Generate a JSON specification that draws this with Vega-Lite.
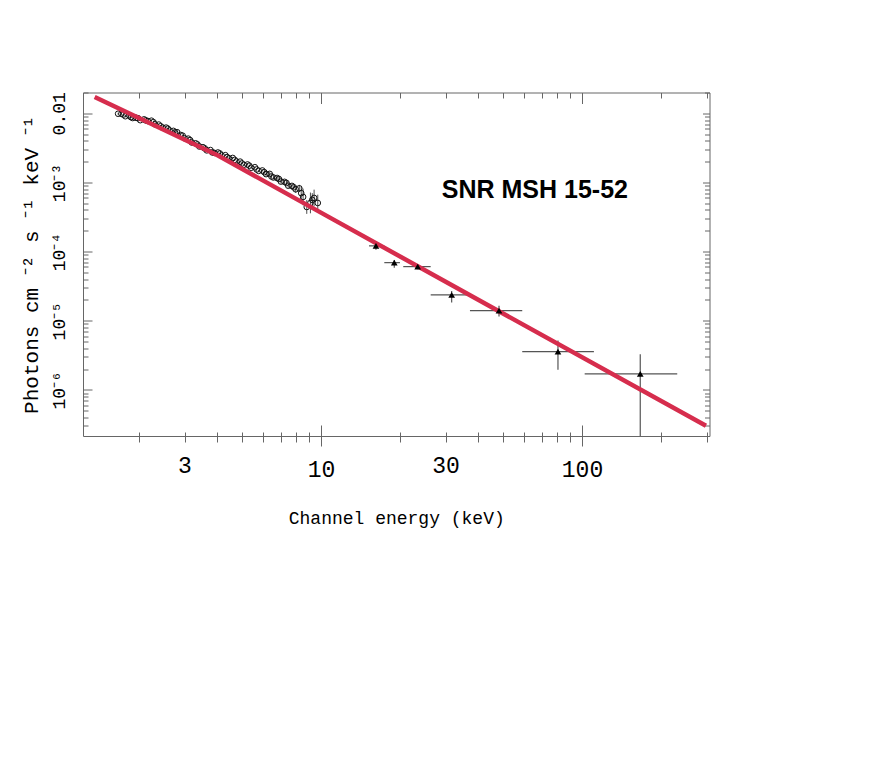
{
  "$schema": "https://vega.github.io/schema/vega-lite/v6.json",
  "width": 626.5,
  "height": 343.5,
  "autosize": {"type": "none"},
  "padding": {"left": 83, "top": 92.5, "right": 162.5, "bottom": 327},
  "background": "white",
  "config": {
    "view": {"stroke": "#666", "strokeWidth": 1},
    "axis": {"domain": false, "grid": false, "labelFont": "Liberation Mono", "titleFont": "Liberation Mono", "tickColor": "#666", "labelColor": "#000", "titleColor": "#000", "titleFontWeight": "normal", "labelOverlap": false, "labelFlush": false}
  },
  "datasets": {
    "soft": [
      {"E": 1.67, "F": 0.00986, "lo": 0.00952, "hi": 0.0102},
      {"E": 1.72, "F": 0.00982, "lo": 0.00949, "hi": 0.01016},
      {"E": 1.75, "F": 0.0096, "lo": 0.00927, "hi": 0.00994},
      {"E": 1.78, "F": 0.00908, "lo": 0.00877, "hi": 0.0094},
      {"E": 1.84, "F": 0.00933, "lo": 0.00901, "hi": 0.00966},
      {"E": 1.87, "F": 0.0088, "lo": 0.0085, "hi": 0.00911},
      {"E": 1.90, "F": 0.00855, "lo": 0.00826, "hi": 0.00885},
      {"E": 1.96, "F": 0.00861, "lo": 0.00832, "hi": 0.00891},
      {"E": 1.99, "F": 0.0085, "lo": 0.00821, "hi": 0.0088},
      {"E": 2.03, "F": 0.00796, "lo": 0.00769, "hi": 0.00824},
      {"E": 2.10, "F": 0.00817, "lo": 0.00789, "hi": 0.00846},
      {"E": 2.13, "F": 0.0079, "lo": 0.00763, "hi": 0.00818},
      {"E": 2.17, "F": 0.00774, "lo": 0.00748, "hi": 0.00801},
      {"E": 2.24, "F": 0.00782, "lo": 0.00755, "hi": 0.00809},
      {"E": 2.28, "F": 0.00745, "lo": 0.0072, "hi": 0.00771},
      {"E": 2.31, "F": 0.00693, "lo": 0.00669, "hi": 0.00717},
      {"E": 2.39, "F": 0.00687, "lo": 0.00664, "hi": 0.00711},
      {"E": 2.43, "F": 0.0065, "lo": 0.00628, "hi": 0.00673},
      {"E": 2.47, "F": 0.00622, "lo": 0.00601, "hi": 0.00644},
      {"E": 2.55, "F": 0.00621, "lo": 0.006, "hi": 0.00643},
      {"E": 2.59, "F": 0.006, "lo": 0.0058, "hi": 0.00621},
      {"E": 2.63, "F": 0.00564, "lo": 0.00545, "hi": 0.00584},
      {"E": 2.72, "F": 0.00557, "lo": 0.00538, "hi": 0.00576},
      {"E": 2.76, "F": 0.0053, "lo": 0.00512, "hi": 0.00549},
      {"E": 2.81, "F": 0.00533, "lo": 0.00515, "hi": 0.00552},
      {"E": 2.90, "F": 0.00486, "lo": 0.00469, "hi": 0.00503},
      {"E": 2.95, "F": 0.00475, "lo": 0.00459, "hi": 0.00492},
      {"E": 3.00, "F": 0.00436, "lo": 0.00421, "hi": 0.00451},
      {"E": 3.10, "F": 0.0043, "lo": 0.00415, "hi": 0.00445},
      {"E": 3.15, "F": 0.0041, "lo": 0.00396, "hi": 0.00424},
      {"E": 3.20, "F": 0.00378, "lo": 0.00365, "hi": 0.00391},
      {"E": 3.31, "F": 0.00368, "lo": 0.00355, "hi": 0.00381},
      {"E": 3.36, "F": 0.00355, "lo": 0.00343, "hi": 0.00367},
      {"E": 3.42, "F": 0.00331, "lo": 0.0032, "hi": 0.00343},
      {"E": 3.53, "F": 0.00323, "lo": 0.00312, "hi": 0.00334},
      {"E": 3.59, "F": 0.0031, "lo": 0.00299, "hi": 0.00321},
      {"E": 3.65, "F": 0.00291, "lo": 0.00281, "hi": 0.00301},
      {"E": 3.77, "F": 0.00294, "lo": 0.00284, "hi": 0.00304},
      {"E": 3.83, "F": 0.00272, "lo": 0.00263, "hi": 0.00282},
      {"E": 3.90, "F": 0.00268, "lo": 0.00259, "hi": 0.00277},
      {"E": 4.03, "F": 0.00271, "lo": 0.00262, "hi": 0.0028},
      {"E": 4.10, "F": 0.00262, "lo": 0.00253, "hi": 0.00271},
      {"E": 4.16, "F": 0.00245, "lo": 0.00237, "hi": 0.00254},
      {"E": 4.30, "F": 0.00248, "lo": 0.0024, "hi": 0.00257},
      {"E": 4.37, "F": 0.00232, "lo": 0.00224, "hi": 0.0024},
      {"E": 4.44, "F": 0.00223, "lo": 0.00215, "hi": 0.00231},
      {"E": 4.59, "F": 0.00226, "lo": 0.00218, "hi": 0.00234},
      {"E": 4.67, "F": 0.00212, "lo": 0.00205, "hi": 0.00219},
      {"E": 4.74, "F": 0.00201, "lo": 0.00194, "hi": 0.00208},
      {"E": 4.90, "F": 0.002, "lo": 0.00193, "hi": 0.00207},
      {"E": 4.98, "F": 0.00188, "lo": 0.00182, "hi": 0.00195},
      {"E": 5.06, "F": 0.0018, "lo": 0.00174, "hi": 0.00186},
      {"E": 5.23, "F": 0.00182, "lo": 0.00176, "hi": 0.00188},
      {"E": 5.31, "F": 0.00175, "lo": 0.00169, "hi": 0.00181},
      {"E": 5.40, "F": 0.00163, "lo": 0.00157, "hi": 0.00169},
      {"E": 5.58, "F": 0.00166, "lo": 0.0016, "hi": 0.00172},
      {"E": 5.67, "F": 0.00154, "lo": 0.00149, "hi": 0.00159},
      {"E": 5.77, "F": 0.00147, "lo": 0.00142, "hi": 0.00152},
      {"E": 5.96, "F": 0.00149, "lo": 0.00144, "hi": 0.00154},
      {"E": 6.06, "F": 0.00141, "lo": 0.00132, "hi": 0.00151},
      {"E": 6.16, "F": 0.00132, "lo": 0.00123, "hi": 0.00142},
      {"E": 6.36, "F": 0.00133, "lo": 0.00124, "hi": 0.00143},
      {"E": 6.46, "F": 0.00122, "lo": 0.00114, "hi": 0.00131},
      {"E": 6.57, "F": 0.00118, "lo": 0.0011, "hi": 0.00126},
      {"E": 6.79, "F": 0.00116, "lo": 0.00108, "hi": 0.00124},
      {"E": 6.90, "F": 0.00112, "lo": 0.00104, "hi": 0.0012},
      {"E": 7.02, "F": 0.00103, "lo": 0.000961, "hi": 0.0011},
      {"E": 7.25, "F": 0.00102, "lo": 0.000952, "hi": 0.00109},
      {"E": 7.37, "F": 0.000985, "lo": 0.000919, "hi": 0.00106},
      {"E": 7.49, "F": 0.000897, "lo": 0.000837, "hi": 0.000962},
      {"E": 7.74, "F": 0.000891, "lo": 0.000831, "hi": 0.000955},
      {"E": 7.87, "F": 0.00085, "lo": 0.000793, "hi": 0.000911},
      {"E": 8.00, "F": 0.000796, "lo": 0.000709, "hi": 0.000893},
      {"E": 8.26, "F": 0.000822, "lo": 0.000732, "hi": 0.000922},
      {"E": 8.40, "F": 0.0007, "lo": 0.00056, "hi": 0.000875},
      {"E": 8.54, "F": 0.000617, "lo": 0.000468, "hi": 0.000813},
      {"E": 8.82, "F": 0.000442, "lo": 0.000351, "hi": 0.000556},
      {"E": 9.11, "F": 0.000505, "lo": 0.000358, "hi": 0.000714},
      {"E": 9.26, "F": 0.00056, "lo": 0.000448, "hi": 0.0007},
      {"E": 9.41, "F": 0.000597, "lo": 0.000453, "hi": 0.000787},
      {"E": 9.72, "F": 0.000505, "lo": 0.000383, "hi": 0.000666}
    ],
    "hard": [
      {"E": 16.24, "Elo": 15.27, "Ehi": 17.48, "F": 0.000121, "Flo": 0.000106, "Fhi": 0.000132},
      {"E": 19.09, "Elo": 17.48, "Ehi": 20.07, "F": 0.0000692, "Flo": 0.0000586, "Fhi": 0.0000757},
      {"E": 23.47, "Elo": 20.66, "Ehi": 26.32, "F": 0.0000606, "Flo": 0.0000556, "Fhi": 0.0000656},
      {"E": 31.67, "Elo": 26.32, "Ehi": 37.22, "F": 0.0000236, "Flo": 0.0000183, "Fhi": 0.000027},
      {"E": 48.09, "Elo": 37.22, "Ehi": 59.03, "F": 0.000014, "Flo": 0.0000115, "Fhi": 0.0000164},
      {"E": 80.9, "Elo": 59.03, "Ehi": 111.1, "F": 0.00000358, "Flo": 0.00000195, "Fhi": 0.00000516},
      {"E": 167.2, "Elo": 102.4, "Ehi": 231.7, "F": 0.0000017, "Flo": 0.000000215, "Fhi": 0.00000328}
    ],
    "model": [
      {"E": 1.358, "F": 0.01722},
      {"E": 4.03, "F": 0.002456},
      {"E": 10.82, "F": 0.0003097},
      {"E": 298.5, "F": 0.0000003016}
    ],
    "label": [
      {"E": 66.0, "F": 0.000779, "text": "SNR MSH 15-52"}
    ]
  },
  "resolve": {"axis": {"x": "independent", "y": "independent"}},
  "layer": [
    {
      "data": {"name": "soft"},
      "mark": {"type": "rule", "color": "#222", "strokeWidth": 0.8},
      "encoding": {
        "x": {"field": "E", "type": "quantitative", "scale": {"type": "log", "domain": [1.225, 308], "nice": false},
          "axis": {"orient": "bottom", "values": [2,3,4,5,6,7,8,9,10,20,30,40,50,60,70,80,90,100,200,300], "labels": false, "title": null,
            "tickSize": {"condition": {"test": "datum.value == 10 || datum.value == 100", "value": -11}, "value": -4}}},
        "y": {"field": "lo", "type": "quantitative", "scale": {"type": "log", "domain": [2.15e-7, 0.02], "nice": false},
          "axis": {"orient": "left", "values": [3e-7,4e-7,5e-7,6e-7,7e-7,8e-7,9e-7,1e-6,2e-6,3e-6,4e-6,5e-6,6e-6,7e-6,8e-6,9e-6,1e-5,2e-5,3e-5,4e-5,5e-5,6e-5,7e-5,8e-5,9e-5,1e-4,2e-4,3e-4,4e-4,5e-4,6e-4,7e-4,8e-4,9e-4,1e-3,2e-3,3e-3,4e-3,5e-3,6e-3,7e-3,8e-3,9e-3,0.01,0.02], "labels": false, "title": null,
            "tickSize": {"condition": {"test": "abs(log(datum.value)/LN10 - round(log(datum.value)/LN10)) < 0.01", "value": -9}, "value": -5}}},
        "y2": {"field": "hi"}
      }
    },
    {
      "data": {"name": "soft"},
      "mark": {"type": "point", "shape": "circle", "filled": false, "size": 32, "stroke": "#111", "strokeWidth": 1, "opacity": 1},
      "encoding": {
        "x": {"field": "E", "type": "quantitative", "axis": null},
        "y": {"field": "F", "type": "quantitative", "axis": null}
      }
    },
    {
      "data": {"name": "hard"},
      "mark": {"type": "rule", "color": "#555", "strokeWidth": 1.2},
      "encoding": {
        "x": {"field": "Elo", "type": "quantitative",
          "axis": {"orient": "top", "values": [2,3,4,5,6,7,8,9,10,20,30,40,50,60,70,80,90,100,200,300], "labels": false, "title": null,
            "tickSize": {"condition": {"test": "datum.value == 10 || datum.value == 100", "value": -11}, "value": -5.5}}},
        "x2": {"field": "Ehi"},
        "y": {"field": "F", "type": "quantitative",
          "axis": {"orient": "right", "values": [3e-7,4e-7,5e-7,6e-7,7e-7,8e-7,9e-7,1e-6,2e-6,3e-6,4e-6,5e-6,6e-6,7e-6,8e-6,9e-6,1e-5,2e-5,3e-5,4e-5,5e-5,6e-5,7e-5,8e-5,9e-5,1e-4,2e-4,3e-4,4e-4,5e-4,6e-4,7e-4,8e-4,9e-4,1e-3,2e-3,3e-3,4e-3,5e-3,6e-3,7e-3,8e-3,9e-3,0.01,0.02], "labels": false, "title": null,
            "tickSize": {"condition": {"test": "abs(log(datum.value)/LN10 - round(log(datum.value)/LN10)) < 0.01", "value": -7}, "value": -5}}}
      }
    },
    {
      "data": {"name": "hard"},
      "mark": {"type": "rule", "color": "#555", "strokeWidth": 1.2},
      "encoding": {
        "x": {"field": "E", "type": "quantitative", "axis": null},
        "y": {"field": "Flo", "type": "quantitative", "axis": null},
        "y2": {"field": "Fhi"}
      }
    },
    {
      "data": {"name": "model"},
      "mark": {"type": "line", "color": "#d62d4d", "strokeWidth": 4.5, "clip": true},
      "encoding": {
        "x": {"field": "E", "type": "quantitative",
          "axis": {"orient": "bottom", "values": [2,3,4,5,6,7,8,9,10,20,30,40,50,60,70,80,90,100,200,300],
            "tickSize": {"condition": {"test": "datum.value == 10 || datum.value == 100", "value": 10}, "value": 6},
            "labelExpr": "datum.value == 3 ? '3' : datum.value == 10 ? '10' : datum.value == 30 ? '30' : datum.value == 100 ? '100' : ''",
            "labelFontSize": 23, "labelPadding": 12,
            "title": "Channel energy (keV)", "titleFontSize": 18, "titlePadding": 28}},
        "y": {"field": "F", "type": "quantitative",
          "axis": {"orient": "left", "values": [1e-6, 1e-5, 1e-4, 1e-3, 0.01], "ticks": false,
            "labelExpr": "datum.value > 0.005 ? '0.01' : datum.value > 0.0005 ? '10⁻³' : datum.value > 0.00005 ? '10⁻⁴' : datum.value > 0.000005 ? '10⁻⁵' : '10⁻⁶'",
            "labelAngle": -90, "labelAlign": "center", "labelBaseline": "bottom", "labelPadding": 15, "labelFontSize": 18,
            "title": "Photons cm ⁻² s ⁻¹ keV ⁻¹", "titleFontSize": 21, "titlePadding": 9}}
      }
    },
    {
      "data": {"name": "hard"},
      "mark": {"type": "point", "shape": "triangle-up", "filled": true, "color": "#000", "size": 45, "opacity": 1},
      "encoding": {
        "x": {"field": "E", "type": "quantitative", "axis": null},
        "y": {"field": "F", "type": "quantitative", "axis": null}
      }
    },
    {
      "data": {"name": "label"},
      "mark": {"type": "text", "font": "Liberation Sans", "fontWeight": "bold", "fontSize": 25, "align": "center", "baseline": "middle", "color": "#000"},
      "encoding": {
        "x": {"field": "E", "type": "quantitative", "axis": null},
        "y": {"field": "F", "type": "quantitative", "axis": null},
        "text": {"field": "text"}
      }
    }
  ]
}
